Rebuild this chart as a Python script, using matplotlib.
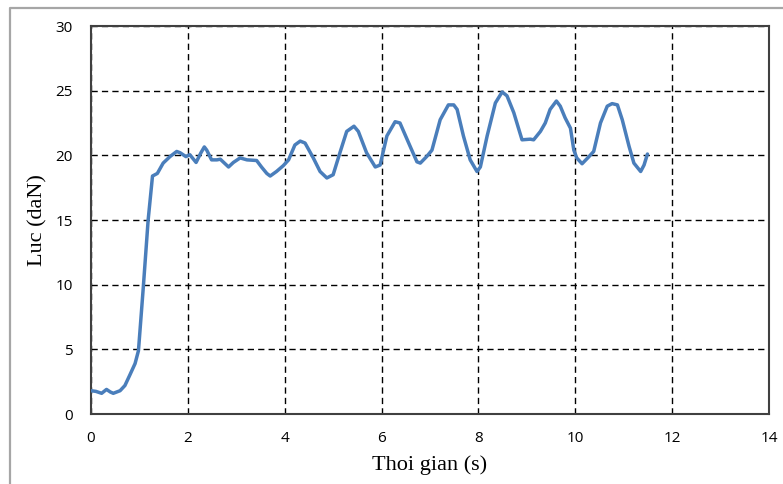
import matplotlib
matplotlib.use("Agg")
import matplotlib.pyplot as plt
from matplotlib.lines import Line2D

# Measured force over time
time_s = [
    0.0, 0.1, 0.22, 0.32, 0.40, 0.46, 0.60, 0.70, 0.80, 0.91,
    0.98, 1.08, 1.18, 1.27, 1.37, 1.49, 1.63, 1.77, 1.84, 1.96,
    2.04, 2.17, 2.27, 2.34, 2.39, 2.49, 2.60, 2.67, 2.84, 2.94,
    3.08, 3.22, 3.42, 3.52, 3.63, 3.70, 3.83, 3.97, 4.08, 4.21,
    4.32, 4.42, 4.59, 4.73, 4.87, 5.00, 5.14, 5.28, 5.43, 5.52,
    5.69, 5.87, 5.97, 6.11, 6.28, 6.38, 6.56, 6.73, 6.80, 6.93,
    7.04, 7.21, 7.38, 7.49, 7.56, 7.69, 7.83, 7.97, 8.04, 8.18,
    8.35, 8.49, 8.59, 8.73, 8.90, 9.07, 9.14, 9.28, 9.38, 9.48,
    9.61, 9.69, 9.79, 9.90, 9.97, 10.03, 10.14, 10.27, 10.38, 10.52,
    10.66, 10.76, 10.87, 10.97, 11.11, 11.21, 11.35, 11.42, 11.49,
]
force_daN = [
    1.8, 1.75, 1.6, 1.9, 1.7, 1.6, 1.8, 2.2, 3.0, 3.9,
    4.9, 9.8, 15.0, 18.4, 18.6, 19.4, 19.9, 20.3, 20.2, 19.9,
    20.05, 19.45, 20.2, 20.65, 20.4, 19.65, 19.65, 19.7, 19.1, 19.45,
    19.8, 19.65, 19.6, 19.1, 18.6, 18.4, 18.75, 19.2, 19.65, 20.8,
    21.1, 20.95, 19.8, 18.75, 18.25, 18.5, 20.2, 21.85, 22.25, 21.85,
    20.2, 19.1, 19.25, 21.5, 22.6, 22.5, 20.95, 19.5, 19.4, 19.9,
    20.4, 22.75, 23.9, 23.9, 23.55, 21.5, 19.65, 18.75, 19.1, 21.5,
    24.05, 24.9, 24.6, 23.3, 21.2, 21.25, 21.2, 21.85, 22.5, 23.55,
    24.2, 23.8, 22.9, 22.1, 20.4, 19.8, 19.35, 19.85, 20.3, 22.5,
    23.8, 24.0, 23.9, 22.75, 20.7, 19.4, 18.75, 19.25, 20.1,
]

x_ticks = [0, 2, 4, 6, 8, 10, 12, 14]
y_ticks = [0, 5, 10, 15, 20, 25, 30]

W, H = 783, 484
fig = plt.figure(figsize=(W / 100, H / 100), dpi=100)
ax = fig.add_axes([91 / W, 1 - 414 / H, (769 - 91) / W, (414 - 26) / H])

ax.plot(time_s, force_daN, color="#4A7EBB", lw=2.5, solid_joinstyle="round",
        solid_capstyle="round", zorder=3)

ax.set_xlim(0, 14)
ax.set_ylim(0, 30)
ax.set_xticks(x_ticks)
ax.set_yticks(y_ticks)

ax.grid(True, color="black", lw=1.0, linestyle=(0, (4.5, 3)))
ax.set_axisbelow(True)
for s in ax.spines.values():
    s.set_color("#404040")
    s.set_linewidth(1.5)

tick_family = ["Open Sans", "DejaVu Sans"]
ax.tick_params(axis="both", length=0)
ax.tick_params(axis="x", pad=12)
ax.tick_params(axis="y", pad=13)
for lab in ax.get_xticklabels() + ax.get_yticklabels():
    lab.set_fontfamily(tick_family)
    lab.set_fontsize(11)

label_font = dict(family=["Liberation Serif", "DejaVu Serif"], size=16)
ax.set_xlabel("Thoi gian (s)", labelpad=7, **label_font)
ax.set_ylabel("Luc (daN)", labelpad=6, **label_font)

# Light grey chart-area border (top and left edges visible)
fx = 10 / W
fy = 1 - 8 / H
fig.add_artist(Line2D([fx, fx, 1.0], [0.0, fy, fy], transform=fig.transFigure,
                      color="#A6A6A6", lw=1.6))

fig.savefig("out.png", dpi=100)
